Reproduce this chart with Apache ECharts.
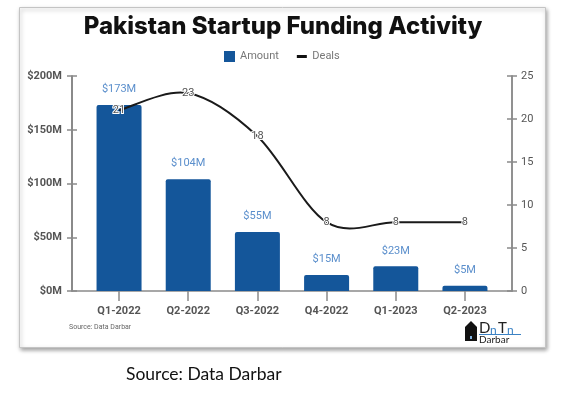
<!DOCTYPE html>
<html><head><meta charset="utf-8">
<script src="https://cdn.jsdelivr.net/npm/echarts@6/dist/echarts.min.js"></script>
<style>html,body{margin:0;padding:0;background:#fff}#c{width:566px;height:399px}</style>
</head><body><div id="c"></div>
<script>
const categories = ['Q1-2022', 'Q2-2022', 'Q3-2022', 'Q4-2022', 'Q1-2023', 'Q2-2023'];
const amounts = [173, 104, 55, 15, 23, 5];
const deals = [21, 23, 18, 8, 8, 8];
const amountAxis = { min: 0, max: 200, interval: 50 };
const dealAxis = { min: 0, max: 25, interval: 5 };
const catIdx = categories.map((c, i) => i);
const xRange = { min: -0.68, max: 5.68 };

const axisGray = '#8a8a8a';
const chart = echarts.init(document.getElementById('c'), null, { renderer: 'canvas' });

function yAx(pos, cfg, main) {
  return {
    type: 'value', position: pos, offset: 0, min: cfg.min, max: cfg.max, interval: cfg.interval,
    splitLine: { show: false },
    axisLine: { show: true, onZero: false, lineStyle: { color: axisGray, width: 1.5 } },
    axisTick: { show: true, inside: !main, length: 5, lineStyle: { color: axisGray, width: 1.5 } },
    axisLabel: main ? (pos === 'left' ? {
      show: true, margin: 10, color: '#555', fontFamily: 'Roboto', fontSize: 11, fontWeight: 'bold',
      formatter: v => '$' + v + 'M'
    } : {
      show: true, margin: 9, color: '#555', fontFamily: 'Roboto', fontSize: 11
    }) : { show: false }
  };
}

// Catmull-Rom spline through the Deals points, in pixel space via the axes
function dealsCurve(params, api) {
  if (params.dataIndex !== 0) return null;
  const pts = catIdx.map(i => api.coord([i, deals[i]]));
  const n = pts.length;
  let d = 'M' + pts[0][0] + ',' + pts[0][1];
  for (let i = 0; i < n - 1; i++) {
    const p0 = pts[Math.max(i - 1, 0)], p1 = pts[i], p2 = pts[i + 1], p3 = pts[Math.min(i + 2, n - 1)];
    const c1 = [p1[0] + (p2[0] - p0[0]) / 6, p1[1] + (p2[1] - p0[1]) / 6];
    const c2 = [p2[0] - (p3[0] - p1[0]) / 6, p2[1] - (p3[1] - p1[1]) / 6];
    d += 'C' + c1[0] + ',' + c1[1] + ',' + c2[0] + ',' + c2[1] + ',' + p2[0] + ',' + p2[1];
  }
  return { type: 'path', shape: { pathData: d }, style: { fill: null, stroke: '#1a1a1a', lineWidth: 2 } };
}

// logo mark shape
const house = [[0, 20], [0, 6], [6, 0], [12, 6], [12, 20]];

chart.setOption({
  animation: false,
  title: {
    text: 'Pakistan Startup Funding Activity', left: 'center', top: 10,
    textStyle: { fontFamily: 'Inter', fontWeight: 800, fontSize: 24, color: '#111' }
  },
  legend: {
    left: 219, top: 46, itemWidth: 11, itemHeight: 11, itemGap: 18,
    textStyle: { fontFamily: 'Roboto', fontSize: 11, color: '#777' },
    data: [
      { name: 'Amount', icon: 'rect' },
      { name: 'Deals', icon: 'path://M0,0h0.01v0.01h-0.01zM0,4h10v3h-10zM9.99,10.99h0.01v0.01h-0.01z', itemStyle: { color: '#111' } }
    ]
  },
  grid: { left: 72, right: 54, top: 76, bottom: 108, containLabel: false },
  xAxis: {
    type: 'value', min: xRange.min, max: xRange.max,
    splitLine: { show: false },
    axisLine: { show: true, onZero: false, lineStyle: { color: axisGray, width: 1.5 } },
    axisTick: { show: true, customValues: catIdx, length: 10, lineStyle: { color: axisGray, width: 1.5 } },
    axisLabel: {
      customValues: catIdx, margin: 15, color: '#555', fontFamily: 'Roboto', fontSize: 11, fontWeight: 'bold',
      formatter: v => categories[Math.round(v)]
    }
  },
  yAxis: [yAx('left', amountAxis, true), yAx('right', dealAxis, true), yAx('left', amountAxis, false), yAx('right', dealAxis, false)],
  series: [
    {
      type: 'bar', name: 'Amount', yAxisIndex: 0, barWidth: 45,
      data: catIdx.map(i => [i, amounts[i]]),
      itemStyle: { color: '#14569A', borderRadius: [2, 2, 0, 0] },
      label: { show: true, position: 'top', distance: 10, color: '#5b8fcc', fontFamily: 'Roboto', fontSize: 11,
        formatter: p => '$' + p.value[1] + 'M' },
      markLine: {
        silent: true, symbol: 'none', label: { show: false },
        lineStyle: { color: axisGray, width: 2, type: 'solid' },
        data: [{ xAxis: xRange.min }]
      }
    },
    {
      type: 'custom', yAxisIndex: 1, z: 3, silent: true,
      data: catIdx.map(i => [i, deals[i]]),
      renderItem: dealsCurve
    },
    {
      type: 'line', name: 'Deals', yAxisIndex: 1, z: 5,
      data: catIdx.map(i => [i, deals[i]]),
      symbol: 'circle', symbolSize: 0.1,
      itemStyle: { color: '#1a1a1a' },
      lineStyle: { color: '#1a1a1a', width: 2, opacity: 0 },
      label: { show: true, position: 'inside', color: '#555', fontFamily: 'Roboto', fontSize: 11,
        textBorderColor: '#fff', textBorderWidth: 2, formatter: p => p.value[1] }
    }
  ],
  graphic: [
    { type: 'rect', z: -10, shape: { x: 19.5, y: 7.5, width: 526, height: 340 },
      style: { fill: '#fff', stroke: '#c4c4c4', lineWidth: 1, shadowBlur: 4, shadowOffsetX: 1, shadowOffsetY: 2, shadowColor: 'rgba(0,0,0,0.35)' } },
    { type: 'text', x: 69, y: 324, style: { text: 'Source: Data Darbar', fill: '#666', fontFamily: 'Roboto', fontSize: 7 } },
    { type: 'text', x: 126, y: 365, style: { text: 'Source: Data Darbar', fill: '#111', fontFamily: 'Lato', fontSize: 17.5 } },
    { type: 'group', x: 465, y: 321, children: [
      { type: 'polygon', shape: { points: house }, style: { fill: '#111' } },
      { type: 'rect', shape: { x: 5, y: 15, width: 2, height: 3 }, style: { fill: '#7fb2e0' } },
      { type: 'text', x: 14, y: 0, style: { text: 'D', fill: '#222', fontFamily: 'Lato', fontSize: 15 } },
      { type: 'text', x: 25, y: 3, style: { text: 'n', fill: '#3b82c4', fontFamily: 'Lato', fontSize: 12 } },
      { type: 'text', x: 33, y: 0, style: { text: 'T', fill: '#222', fontFamily: 'Lato', fontSize: 15 } },
      { type: 'text', x: 42, y: 3, style: { text: 'n', fill: '#3b82c4', fontFamily: 'Lato', fontSize: 12 } },
      { type: 'rect', shape: { x: 14, y: 13, width: 42, height: 1 }, style: { fill: '#3b82c4' } },
      { type: 'text', x: 14, y: 14, style: { text: 'Darbar', fill: '#222', fontFamily: 'Lato', fontSize: 10 } }
    ] }
  ]
});
</script></body></html>
